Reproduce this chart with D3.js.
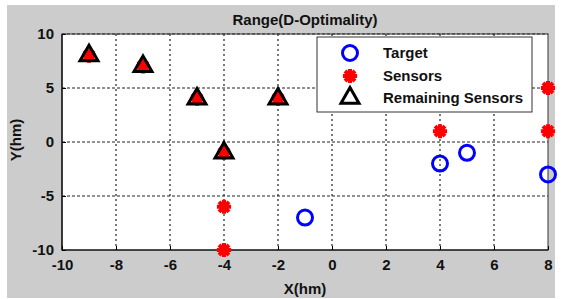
<!DOCTYPE html>
<html>
<head>
    <meta charset="utf-8">
    <script src="https://d3js.org/d3.v7.min.js"></script>
    <style>
        body {
            margin: 0;
            background: #fff;
            overflow: hidden;
        }

        svg text {
            font-family: "Liberation Sans", Arial, sans-serif;
            font-weight: bold;
            font-size: 15px;
            fill: #111;
        }
    </style>
</head>
<body>
    <div id="chart"></div>
    <script>
        // data
        var targets = [[-1, -7], [4, -2], [5, -1], [8, -3]];
        var sensors = [[-9, 8], [-7, 7], [-5, 4], [-2, 4], [-4, -1], [-4, -6], [-4, -10], [4, 1], [8, 5], [8, 1]];
        var remaining = [[-9, 8], [-7, 7], [-5, 4], [-2, 4], [-4, -1]];
        var xTicks = [-10, -8, -6, -4, -2, 0, 2, 4, 6, 8];
        var yTicks = [-10, -5, 0, 5, 10];
        var legendItems = ["Target", "Sensors", "Remaining Sensors"];

        var width = 563;
        var height = 299;
        var plot = { left: 62, right: 548, top: 34, bottom: 250 };

        var svg = d3.select("#chart").append("svg")
            .attr("width", width)
            .attr("height", height);

        // grey figure background
        svg.append("rect")
            .attr("x", 7).attr("y", 5)
            .attr("width", 548).attr("height", 293)
            .attr("fill", "#cccccc");

        var x = d3.scaleLinear().domain([-10, 8]).range([plot.left, plot.right]);
        var y = d3.scaleLinear().domain([-10, 10]).range([plot.bottom, plot.top]);

        svg.append("rect")
            .attr("x", plot.left).attr("y", plot.top)
            .attr("width", plot.right - plot.left).attr("height", plot.bottom - plot.top)
            .attr("fill", "#fff");

        // grid
        var grid = svg.append("g").attr("stroke", "#222").attr("stroke-width", 1.2);
        grid.selectAll(".vg").data(xTicks.slice(1, -1)).enter().append("line")
            .attr("x1", d => x(d)).attr("x2", d => x(d))
            .attr("y1", plot.top).attr("y2", plot.bottom)
            .attr("stroke-dasharray", "2,3");
        grid.selectAll(".hg").data(yTicks.slice(1)).enter().append("line")
            .attr("x1", plot.left).attr("x2", plot.right)
            .attr("y1", d => y(d)).attr("y2", d => y(d))
            .attr("stroke-dasharray", "3,2");

        // box
        svg.append("rect")
            .attr("x", plot.left).attr("y", plot.top)
            .attr("width", plot.right - plot.left).attr("height", plot.bottom - plot.top)
            .attr("fill", "none")
            .attr("stroke", "#333")
            .attr("stroke-width", 1);
        svg.append("path")
            .attr("d", `M${plot.left},${plot.top}V${plot.bottom}H${plot.right}`)
            .attr("fill", "none")
            .attr("stroke", "#000")
            .attr("stroke-width", 1.2);

        // axes (ticks inside), plain hyphen for negatives like the original
        var fmt = d => String(d);
        var xAxis = d3.axisBottom(x).tickValues(xTicks).tickSize(-4).tickPadding(9).tickFormat(fmt);
        var yAxis = d3.axisLeft(y).tickValues(yTicks).tickSize(-4).tickPadding(8).tickFormat(fmt);

        var gx = svg.append("g").attr("transform", `translate(0,${plot.bottom})`).call(xAxis);
        var gy = svg.append("g").attr("transform", `translate(${plot.left},0)`).call(yAxis);
        [gx, gy].forEach(g => {
            g.select(".domain").remove();
            g.selectAll(".tick line").attr("stroke", "#000");
            g.selectAll("text").style("fill", "#111");
            g.attr("font-size", null).attr("font-family", null);
        });

        // labels
        svg.append("text")
            .attr("x", 305).attr("y", 25)
            .attr("text-anchor", "middle")
            .text("Range(D-Optimality)");
        svg.append("text")
            .attr("x", 305).attr("y", 294)
            .attr("text-anchor", "middle")
            .text("X(hm)");
        svg.append("text")
            .attr("transform", "translate(21,140) rotate(-90)")
            .attr("text-anchor", "middle")
            .text("Y(hm)");

        // marker shapes
        var star = {
            draw(context, size) {
                var r = Math.sqrt(size) / 2;
                var d = r * Math.SQRT1_2;
                context.moveTo(-r, 0); context.lineTo(r, 0);
                context.moveTo(0, -r); context.lineTo(0, r);
                context.moveTo(-d, -d); context.lineTo(d, d);
                context.moveTo(-d, d); context.lineTo(d, -d);
            }
        };
        var starPath = d3.symbol(star, 200)();
        var triPath = d3.symbol(d3.symbolTriangle, 140)();

        var marks = svg.append("g");

        marks.selectAll(".target").data(targets).enter().append("circle")
            .attr("cx", d => x(d[0])).attr("cy", d => y(d[1]))
            .attr("r", 7.5)
            .attr("fill", "none")
            .attr("stroke", "#0000ff")
            .attr("stroke-width", 3);

        marks.selectAll(".sensor").data(sensors).enter().append("path")
            .attr("d", starPath)
            .attr("transform", d => `translate(${x(d[0])},${y(d[1])})`)
            .attr("fill", "none")
            .attr("stroke", "#ff0000")
            .attr("stroke-width", 4);

        marks.selectAll(".remain").data(remaining).enter().append("path")
            .attr("d", triPath)
            .attr("transform", d => `translate(${x(d[0])},${y(d[1])})`)
            .attr("fill", "none")
            .attr("stroke", "#000")
            .attr("stroke-width", 3);

        // legend
        var legend = svg.append("g");
        legend.append("rect")
            .attr("x", 317).attr("y", 37)
            .attr("width", 215).attr("height", 75)
            .attr("fill", "#fff")
            .attr("stroke", "#333")
            .attr("stroke-width", 1);

        var rows = [53, 76, 98];
        legend.append("circle")
            .attr("cx", 350).attr("cy", rows[0])
            .attr("r", 7.5)
            .attr("fill", "none")
            .attr("stroke", "#0000ff")
            .attr("stroke-width", 3);
        legend.append("path")
            .attr("d", starPath)
            .attr("transform", `translate(350,${rows[1]})`)
            .attr("fill", "none")
            .attr("stroke", "#ff0000")
            .attr("stroke-width", 4);
        legend.append("path")
            .attr("d", triPath)
            .attr("transform", `translate(350,${rows[2]})`)
            .attr("fill", "none")
            .attr("stroke", "#000")
            .attr("stroke-width", 3);

        legend.selectAll(".lt").data(legendItems).enter().append("text")
            .attr("x", 383)
            .attr("y", (d, i) => rows[i] + 5)
            .text(d => d);
    </script>
</body>
</html>
